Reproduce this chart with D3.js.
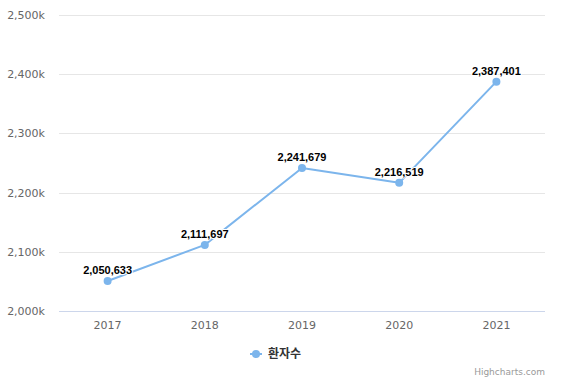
<!DOCTYPE html>
<html><head><meta charset="utf-8">
<script src="https://cdn.jsdelivr.net/npm/d3@7/dist/d3.min.js"></script>
<style>body{margin:0;background:#fff;}svg{display:block;font-family:"DejaVu Sans",Arial,sans-serif;}</style>
</head><body>
<svg id="c" width="586" height="385"></svg>
<script>
const categories = ["2017","2018","2019","2020","2021"];
const values = [2050633, 2111697, 2241679, 2216519, 2387401];
const yTicks = [2000000, 2100000, 2200000, 2300000, 2400000, 2500000];
const seriesName = "환자수";

(function () {
const svg = d3.select("#c");
const pl = 59, pr = 545, pt = 15, pb = 311;
const x = d3.scaleBand().domain(categories).range([pl, pr]);
const y = d3.scaleLinear().domain([2000000, 2500000]).range([pb, pt]);
const fmt = d3.format(",");

svg.append("g").selectAll("line").data(yTicks.slice(1)).join("line")
  .attr("x1", pl).attr("x2", pr)
  .attr("y1", d => Math.round(y(d)) + 0.5).attr("y2", d => Math.round(y(d)) + 0.5)
  .attr("stroke", "#e6e6e6").attr("stroke-width", 1);
svg.append("g").selectAll("text").data(yTicks).join("text")
  .attr("x", 45).attr("y", d => y(d) + 4)
  .attr("text-anchor", "end").attr("font-size", 11).attr("fill", "#666")
  .text(d => fmt(d / 1000) + "k");
svg.append("line").attr("x1", pl).attr("x2", pr)
  .attr("y1", pb + 0.5).attr("y2", pb + 0.5)
  .attr("stroke", "#ccd6eb").attr("stroke-width", 1);
svg.append("g").selectAll("text").data(categories).join("text")
  .attr("x", d => x(d) + x.bandwidth() / 2).attr("y", 329)
  .attr("text-anchor", "middle").attr("font-size", 11).attr("fill", "#666")
  .text(d => d);

const cx = (d, i) => x(categories[i]) + x.bandwidth() / 2;
const line = d3.line().x((d, i) => cx(d, i)).y(d => y(d));
svg.append("path").datum(values).attr("d", line)
  .attr("fill", "none").attr("stroke", "#7cb5ec").attr("stroke-width", 2)
  .attr("stroke-linejoin", "round").attr("stroke-linecap", "round");
svg.append("g").selectAll("circle").data(values).join("circle")
  .attr("cx", cx).attr("cy", d => y(d)).attr("r", 4).attr("fill", "#7cb5ec");

svg.append("g").selectAll("text").data(values).join("text")
  .attr("x", cx).attr("y", d => y(d) - 7)
  .attr("text-anchor", "middle").attr("font-size", 11).attr("font-weight", "bold")
  .style("font-family", "'Liberation Sans', Arial, sans-serif")
  .attr("fill", "#000").attr("stroke", "#fff").attr("stroke-width", 2)
  .attr("stroke-linejoin", "round").attr("paint-order", "stroke")
  .text(d => fmt(d));

const lg = svg.append("g");
lg.append("line").attr("x1", 250).attr("x2", 262).attr("y1", 354).attr("y2", 354)
  .attr("stroke", "#7cb5ec").attr("stroke-width", 2);
lg.append("circle").attr("cx", 256).attr("cy", 354).attr("r", 4).attr("fill", "#7cb5ec");
lg.append("text").attr("x", 268).attr("y", 358).attr("font-size", 12)
  .attr("font-weight", "bold").attr("fill", "#333")
  .style("font-family", "'Noto Sans CJK KR', sans-serif").text(seriesName);

svg.append("text").attr("x", 545).attr("y", 375).attr("text-anchor", "end")
  .attr("font-size", 9).attr("fill", "#999").text("Highcharts.com");
})();
</script>
</body></html>
